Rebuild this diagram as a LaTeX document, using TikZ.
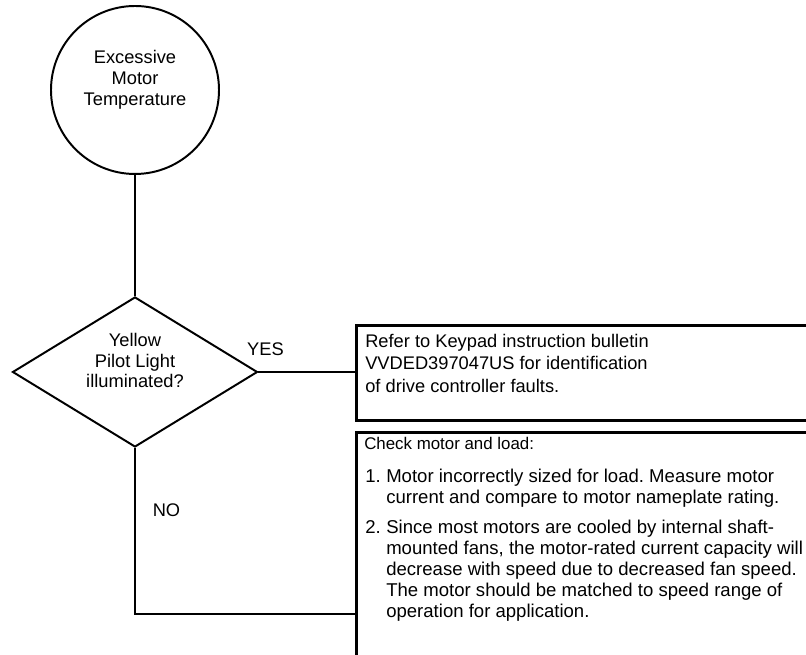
\documentclass[tikz,border=0pt]{standalone}
\usepackage{fontspec}
\setmainfont{Liberation Sans}
\usepackage{tikz}
\usetikzlibrary{shapes.geometric}

\newcommand{\itemno}[1]{\makebox[0.525cm][l]{#1}}
\newcommand{\contindent}{\hspace*{0.525cm}}
\frenchspacing

\begin{document}
\begin{tikzpicture}[
    link/.style={line width=1.4pt},
    txt/.style={inner sep=0pt, font=\fontsize{13}{14.9}\selectfont},
    notebox/.style={draw, rectangle, line width=1.9pt, inner sep=0pt, minimum width=12cm, anchor=north west}
  ]
    \clip (0,0) rectangle (20.15,16.375);

    \node[circle, draw, line width=1.4pt, inner sep=0pt, minimum size=4.2cm] (excess) at (3.375,14.125) {};
    \node[txt, align=center] (excesstext) at (3.375,14.385) {Excessive\\Motor\\Temperature};

    \node[diamond, draw, line width=1.4pt, inner sep=0pt, minimum width=6.125cm, minimum height=3.75cm] (yellow) at (3.375,7.075) {};
    \node[txt, align=center, font=\fontsize{13}{14.6}\selectfont] (yellowtext) at (3.375,7.355) {Yellow\\Pilot Light\\illuminated?};

    \node[notebox, minimum height=2.375cm] (keypad) at (8.875,8.275) {};
    \node[txt, align=left, anchor=north west, font=\fontsize{13}{16}\selectfont] (keypadtext) at (9.125,8.035)
        {Refer to Keypad instruction bulletin\\VVDED397047US for identification\\of drive controller faults.};

    \node[notebox, minimum height=6cm] (check) at (8.875,5.6) {};
    \node[txt, anchor=north west, font=\fontsize{12}{14}\selectfont] (checkhead) at (9.1,5.44) {Check motor and load:};
    \node[txt, align=left, anchor=north west, font=\fontsize{13.2}{14.9}\selectfont] (checklist) at (9.125,4.66)
        {\itemno{1.}Motor incorrectly sized for load. Measure motor\\
         \contindent current and compare to motor nameplate rating.\\[0.225cm]
         \itemno{2.}Since most motors are cooled by internal shaft-\\
         \contindent mounted fans, the motor-rated current capacity will\\
         \contindent decrease with speed due to decreased fan speed.\\
         \contindent The motor should be matched to speed range of\\
         \contindent operation for application.};

    \coordinate (nojoin) at (8.875,1.025);

    \draw[link] (excess.south) -- (yellow.north);
    \draw[link] (yellow.east) -- (yellow.east -| keypad.west);
    \draw[link] (yellow.south) |- (nojoin);

    \node[txt] (yes) at (6.6375,7.65) {YES};
    \node[txt] (no) at (4.1625,3.625) {NO};
\end{tikzpicture}
\end{document}
